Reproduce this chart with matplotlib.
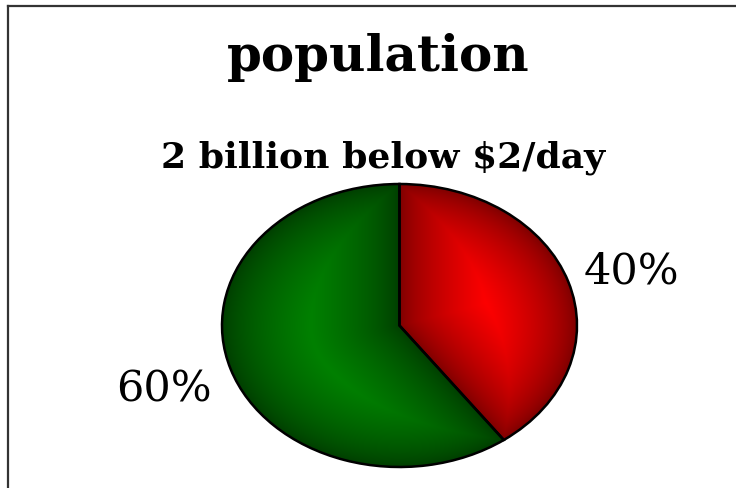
import numpy as np
import matplotlib.pyplot as plt
from matplotlib.lines import Line2D
from matplotlib.colors import to_rgb

title = "population"
subtitle = "2 billion below $2/day"
shares = [40, 60]
labels = ["40%", "60%"]
bright = ["#ff0000", "#008000"]
dark = ["#7a0000", "#003c00"]

fig = plt.figure(figsize=(7.36, 4.88), dpi=100)
fig.patch.set_facecolor("white")

# frame (only top and left edges fall inside the canvas)
fig.add_artist(Line2D([8 / 736, 1], [1 - 6 / 488, 1 - 6 / 488], color="#333333", lw=1.6))
fig.add_artist(Line2D([8 / 736, 8 / 736], [0, 1 - 6 / 488], color="#333333", lw=1.6))

fig.text(378 / 736, 1 - 57 / 488, title, ha="center", va="center",
         family="DejaVu Serif", weight="heavy", fontsize=36)
fig.text(383 / 736, 1 - 158 / 488, subtitle, ha="center", va="center",
         family="DejaVu Serif", weight="heavy", fontsize=26)

ax = fig.add_axes([222 / 736, 1 - 467 / 488, 355 / 736, 283 / 488])
wedges, _ = ax.pie(shares, startangle=90, counterclock=False, radius=1,
                   wedgeprops=dict(facecolor="none", edgecolor="black", linewidth=1.8))
ax.set_aspect("auto")
ax.set_xlim(-1, 1)
ax.set_ylim(-1, 1)
ax.axis("off")

# shaded fill per wedge: bright in the middle of the slice, dark towards its borders
n = 500
xs = np.linspace(-1, 1, n)
X, Y = np.meshgrid(xs, xs[::-1])
R = np.hypot(X, Y)
for w, c1, c2 in zip(wedges, bright, dark):
    t1, t2 = np.deg2rad(w.theta1), np.deg2rad(w.theta2)
    d = 1 - R
    for t in (t1, t2):
        ux, uy = np.cos(t), np.sin(t)
        proj = np.clip(X * ux + Y * uy, 0, None)
        dist = np.hypot(X - proj * ux, Y - proj * uy)
        d = np.minimum(d, dist)
    d = np.clip(d, 0, None)
    s = np.clip(d / d.max(), 0, 1) ** 0.7
    a, b = np.array(to_rgb(c2)), np.array(to_rgb(c1))
    img = a + (b - a) * s[..., None]
    im = ax.imshow(img, extent=(-1, 1, -1, 1), aspect="auto", zorder=0,
                   interpolation="bilinear")
    im.set_clip_path(w)

fig.text(631 / 736, 1 - 271 / 488, labels[0], ha="center", va="center",
         family="DejaVu Serif", fontsize=31)
fig.text(164 / 736, 1 - 389 / 488, labels[1], ha="center", va="center",
         family="DejaVu Serif", fontsize=31)

fig.savefig("out.png", dpi=100)
